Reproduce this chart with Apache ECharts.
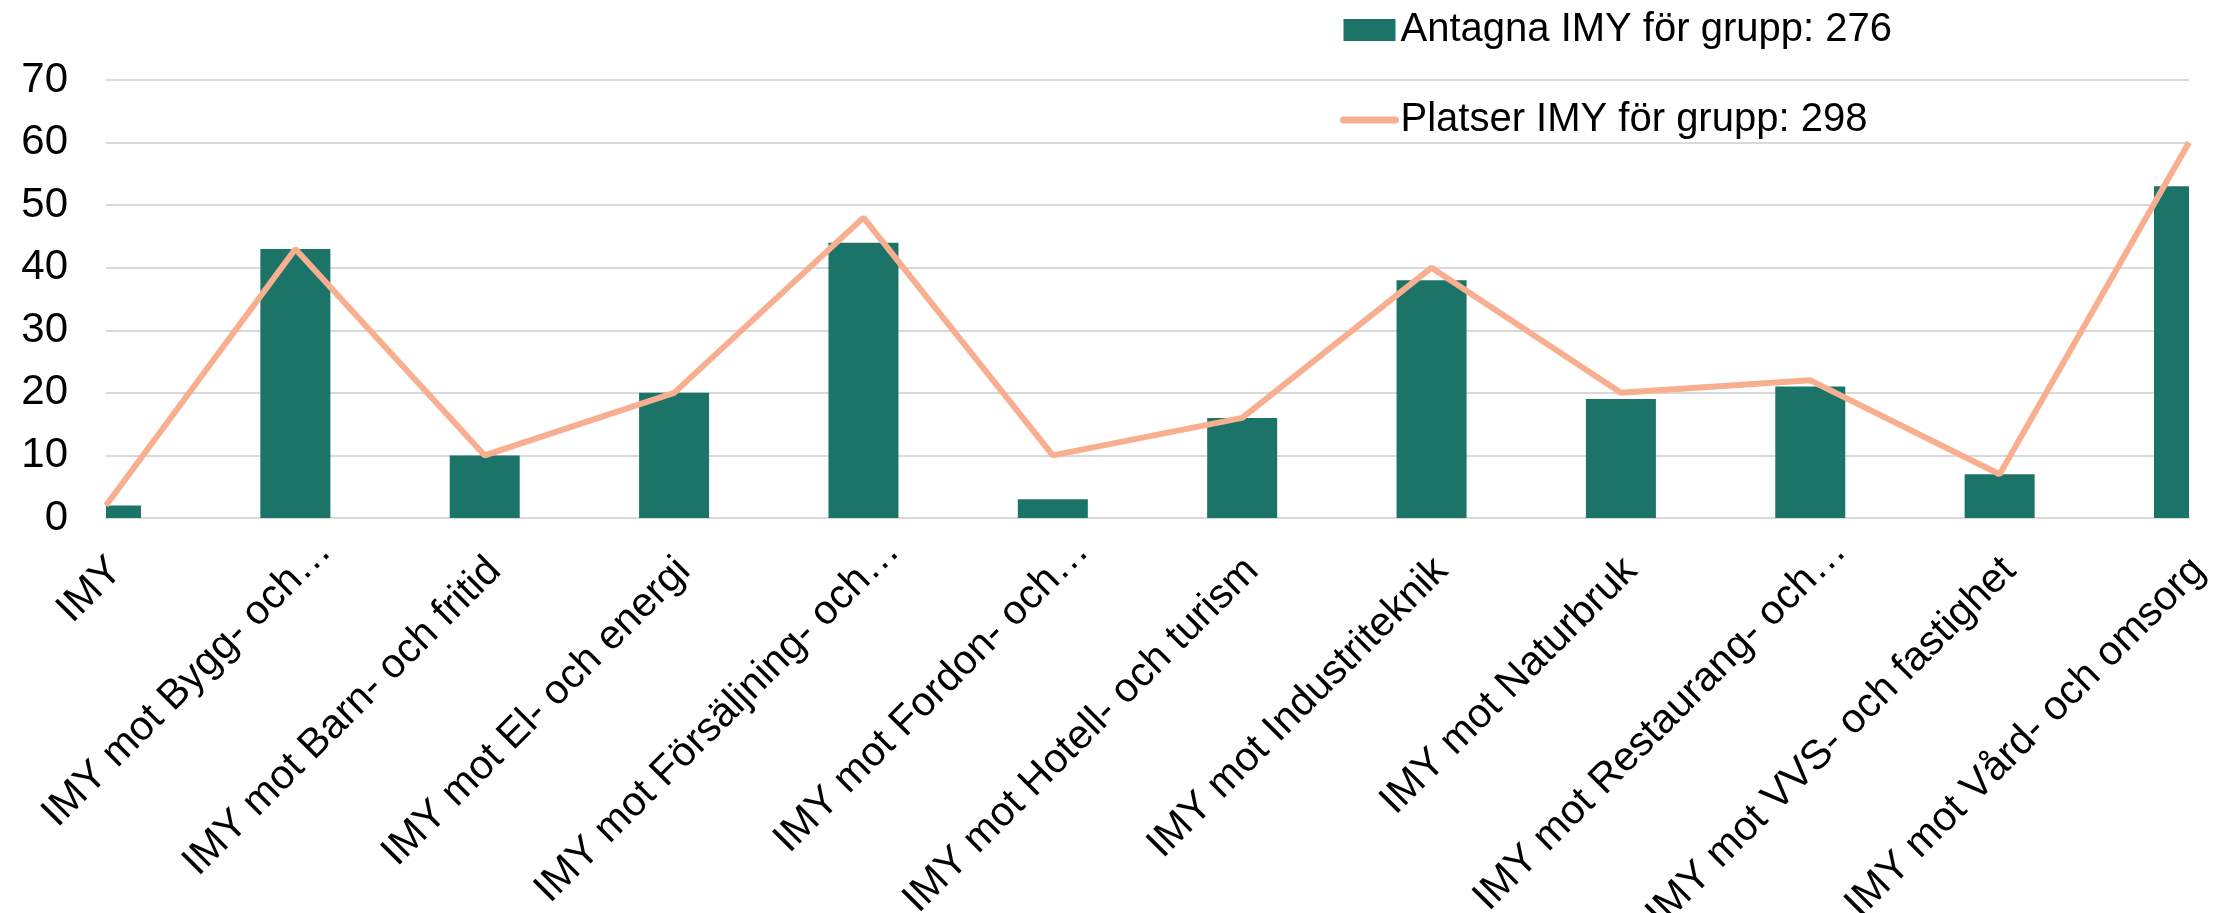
<!DOCTYPE html>
<html>
<head>
<meta charset="utf-8">
<script src="https://cdn.jsdelivr.net/npm/echarts@6/dist/echarts.min.js"></script>
<style>
html,body{margin:0;padding:0;background:#fff;}
#chart{width:2229px;height:913px;}
</style>
</head>
<body>
<div id="chart"></div>
<script>
// kategorier och värden
const categories = [
	'IMY',
	'IMY mot Bygg- och…',
	'IMY mot Barn- och fritid',
	'IMY mot El- och energi',
	'IMY mot Försäljning- och…',
	'IMY mot Fordon- och…',
	'IMY mot Hotell- och turism',
	'IMY mot Industriteknik',
	'IMY mot Naturbruk',
	'IMY mot Restaurang- och…',
	'IMY mot VVS- och fastighet',
	'IMY mot Vård- och omsorg'
];
const antagna = [2, 43, 10, 20, 44, 3, 16, 38, 19, 21, 7, 53];
const platser = [2, 43, 10, 20, 48, 10, 16, 40, 20, 22, 7, 60];
const antagnaNamn = 'Antagna IMY för grupp: 276';
const platserNamn = 'Platser IMY för grupp: 298';

const barColor = '#1c7367';
const lineColor = '#f7af8f';
const barWidth = 70;

// staplar klipps mot ritytan, som i originalet (första och sista är halva)
function renderBar(params, api) {
	let top = api.coord([api.value(0), api.value(1)]);
	let base = api.coord([api.value(0), 0]);
	let rect = echarts.graphic.clipRectByRect(
		{x: top[0] - barWidth / 2, y: top[1], width: barWidth, height: base[1] - top[1]},
		{x: params.coordSys.x, y: params.coordSys.y, width: params.coordSys.width, height: params.coordSys.height}
	);
	if (!rect) return;
	return {type: 'rect', shape: rect, style: {fill: barColor}};
}

let chartDom = document.getElementById('chart');
let myChart = echarts.init(chartDom);

let option = {
	animation: false,
	textStyle: {fontFamily: 'Liberation Sans, Arial, sans-serif'},
	legend: {
		orient: 'vertical',
		left: 1335,
		top: 4,
		itemWidth: 52,
		itemHeight: 22,
		itemGap: 48,
		textStyle: {fontSize: 40, color: '#000', lineHeight: 42},
		data: [
			{name: antagnaNamn, icon: 'rect', itemStyle: {color: barColor}},
			{name: platserNamn, itemStyle: {opacity: 0}, lineStyle: {width: 7, cap: 'round', color: lineColor}}
		]
	},
	grid: {left: 106, right: 40, top: 80, bottom: 395, outerBoundsMode: 'none', containLabel: false},
	xAxis: {
		type: 'category',
		data: categories,
		boundaryGap: false,
		axisTick: {show: false},
		axisLine: {lineStyle: {color: '#d9d9d9', width: 2}},
		axisLabel: {
			rotate: 45,
			interval: 0,
			margin: -3,
			align: 'right',
			verticalAlign: 'top',
			fontSize: 41,
			lineHeight: 84,
			color: '#000',
			// avkortade etiketter sitter längre ut längs texten i originalet
			formatter: function (v) {
				return v.endsWith('…') ? '{t|' + v + '}' : '{n|' + v + '}';
			},
			rich: {
				n: {fontSize: 41, lineHeight: 84, color: '#000', padding: [0, 28, 0, 0]},
				t: {fontSize: 41, lineHeight: 84, color: '#000'}
			}
		}
	},
	yAxis: {
		type: 'value',
		min: 0,
		max: 70,
		interval: 10,
		axisLine: {show: false},
		axisTick: {show: false},
		splitLine: {lineStyle: {color: '#d9d9d9', width: 2}},
		axisLabel: {fontSize: 42, lineHeight: 20, color: '#000', margin: 38}
	},
	series: [
		{
			name: antagnaNamn,
			type: 'custom',
			renderItem: renderBar,
			data: antagna.map((v, i) => [i, v]),
			itemStyle: {color: barColor},
			encode: {x: 0, y: 1}
		},
		{
			name: platserNamn,
			type: 'line',
			data: platser,
			symbol: 'none',
			lineStyle: {color: lineColor, width: 6},
			itemStyle: {color: lineColor},
			z: 3
		}
	]
};

myChart.setOption(option);
</script>
</body>
</html>
